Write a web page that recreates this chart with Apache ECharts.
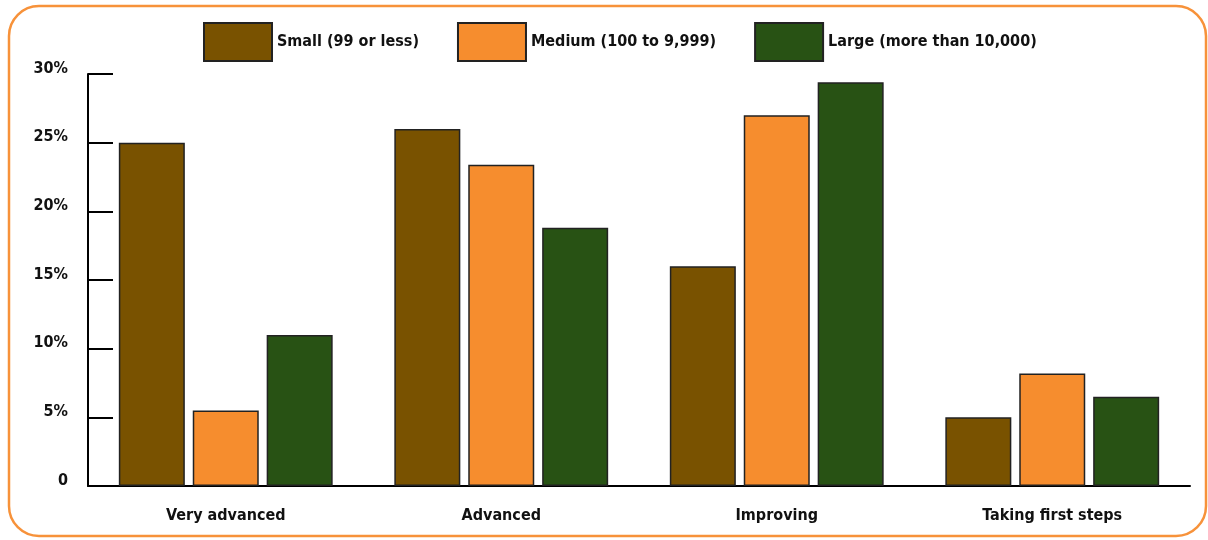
<!DOCTYPE html>
<html><head><meta charset="utf-8">
<script src="https://cdn.jsdelivr.net/npm/echarts@6/dist/echarts.min.js"></script>
<style>html,body{margin:0;padding:0;background:#fff}#c{width:1208px;height:540px}</style>
</head><body><div id="c"></div>
<script>
var categories = ['Very advanced', 'Advanced', 'Improving', 'Taking first steps'];
var seriesNames = ['Small (99 or less)', 'Medium (100 to 9,999)', 'Large (more than 10,000)'];
var small = [25, 26, 16, 5];
var medium = [5.5, 23.4, 27, 8.2];
var large = [11, 18.8, 29.4, 6.5];
var yTicks = [0, 5, 10, 15, 20, 25, 30];
var colors = ['#795200', '#F68D2E', '#285214'];
var FONT = '"Liberation Sans Narrow","DejaVu Sans Condensed",sans-serif';

var chart = echarts.init(document.getElementById('c'));
var dataSets = [small, medium, large];
var txt = {fontFamily: FONT, fontSize: 16, fontWeight: 'bold', color: '#111'};
chart.setOption({
  animation: false,
  textStyle: {fontFamily: FONT},
  graphic: [{type: 'rect', shape: {x: 9, y: 6, width: 1197, height: 530, r: 30},
    style: {fill: 'none', stroke: '#F7923A', lineWidth: 2.5}, z: -1}],
  legend: {
    top: 17, left: 198, itemWidth: 68, itemHeight: 38, itemGap: 38, icon: 'rect',
    textStyle: txt,
    data: seriesNames
  },
  grid: {left: 88, right: 18, top: 74, bottom: 54},
  xAxis: {
    type: 'category', data: categories,
    axisLine: {lineStyle: {color: '#000', width: 2}},
    axisTick: {inside: true, length: 6, lineStyle: {color: '#000', width: 2}},
    axisLabel: Object.assign({margin: 22}, txt)
  },
  yAxis: {
    type: 'value', min: 0, max: yTicks[yTicks.length - 1], interval: 5,
    splitLine: {show: false},
    axisLine: {show: true, lineStyle: {color: '#000', width: 2}},
    axisTick: {show: true, inside: true, length: 25, lineStyle: {color: '#000', width: 2}},
    axisLabel: Object.assign({margin: 20, verticalAlign: 'bottom', lineHeight: 11,
      formatter: function (v) { return v === 0 ? '0' : v + '%'; }}, txt)
  },
  series: seriesNames.map(function (n, i) {
    return {
      name: n, type: 'bar', data: dataSets[i], barWidth: 66, barGap: '12%',
      itemStyle: {color: colors[i], borderColor: '#222', borderWidth: 1.5}
    };
  })
});
</script></body></html>
